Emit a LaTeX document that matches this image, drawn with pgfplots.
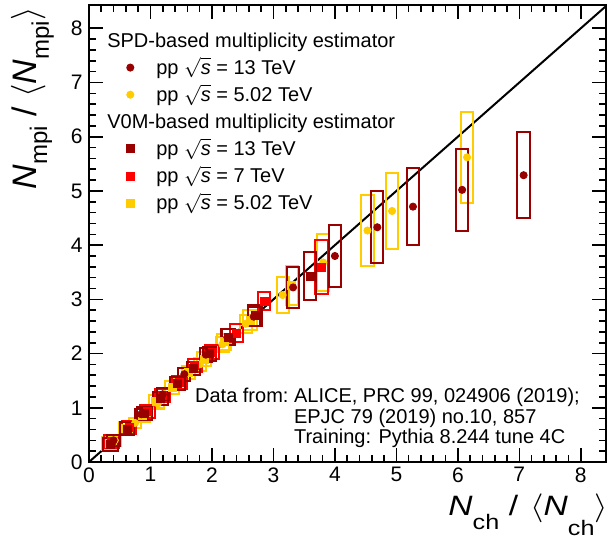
\documentclass[border=0pt]{standalone}
\usepackage{fontspec}
\setmainfont{Liberation Sans}
\usepackage{pgfplots}
\usepackage{pgfplotstable}
\usepackage{graphicx}
\pgfplotsset{compat=1.18}

\definecolor{mdark}{RGB}{153,0,0}
\definecolor{mred}{RGB}{255,0,0}
\definecolor{myel}{RGB}{255,204,0}

% columns: x, y, half width and half height of the systematic box
\pgfplotstableread{
x y ex ey
0.40 0.40 0.10 0.10
0.85 0.88 0.10 0.10
1.20 1.25 0.10 0.11
1.55 1.62 0.10 0.12
1.90 1.98 0.10 0.13
2.25 2.30 0.10 0.15
2.68 2.68 0.10 0.18
3.32 3.22 0.10 0.38
4.00 3.80 0.10 0.57
4.69 4.33 0.10 0.66
5.27 4.71 0.10 0.71
6.07 5.02 0.10 0.75
7.07 5.29 0.10 0.79
}\spdthirteen

\pgfplotstableread{
x y ex ey
0.42 0.40 0.10 0.10
0.75 0.72 0.10 0.10
1.12 1.08 0.10 0.10
1.48 1.45 0.10 0.11
1.80 1.80 0.10 0.12
2.17 2.17 0.10 0.14
2.55 2.55 0.10 0.17
3.15 3.08 0.10 0.34
3.81 3.68 0.10 0.52
4.53 4.27 0.10 0.65
4.93 4.63 0.10 0.70
6.15 5.62 0.10 0.84
}\spdfive

\pgfplotstableread{
x y ex ey
0.35 0.33 0.12 0.12
0.62 0.61 0.12 0.12
0.90 0.90 0.12 0.12
1.16 1.17 0.12 0.12
1.44 1.45 0.12 0.12
1.70 1.73 0.11 0.12
1.96 2.00 0.11 0.13
2.27 2.30 0.11 0.15
2.70 2.70 0.11 0.19
3.60 3.43 0.10 0.45
}\vthirteen

\pgfplotstableread{
x y ex ey
0.37 0.38 0.12 0.12
0.65 0.64 0.12 0.12
0.95 0.93 0.12 0.12
1.20 1.22 0.12 0.12
1.47 1.47 0.12 0.12
1.72 1.78 0.11 0.12
2.00 2.03 0.11 0.13
2.40 2.38 0.11 0.17
2.85 2.97 0.10 0.16
3.78 3.59 0.10 0.50
}\vseven

\pgfplotstableread{
x y ex ey
0.33 0.35 0.12 0.12
0.60 0.62 0.12 0.12
0.87 0.86 0.12 0.12
1.10 1.12 0.12 0.12
1.35 1.37 0.12 0.12
1.62 1.65 0.11 0.12
1.87 1.90 0.11 0.13
2.20 2.22 0.11 0.15
2.62 2.62 0.11 0.18
3.30 3.25 0.10 0.36
}\vfive

\pgfplotsset{
  sysbox/.style={
    only marks, scatter, mark=square, mark size=1pt,
    mark options={draw=#1, fill=none, line width=1pt},
    visualization depends on={\thisrow{ex} \as \bdx},
    visualization depends on={\thisrow{ey} \as \bdy},
    scatter/@pre marker code/.code={\begin{scope}[xscale=30.737*\bdx, yscale=27.105*\bdy]},
    scatter/@post marker code/.code={\end{scope}},
    forget plot,
  },
  legmark/.style={only marks,
    legend image code/.code={\path[draw=none, fill=none] (0pt,0pt) -- (20.5pt,0pt);
      \draw plot coordinates {(11.5pt,0pt)};}},
  leghead/.style={
    legend image code/.code={\path[draw=none, fill=none] (0pt,0pt) -- (20.5pt,0pt);
      \node[overlay, anchor=base west, inner sep=0pt, text=black,
        font=\fontsize{10}{12}\selectfont] at (0pt,-3.35pt) {#1};}},
}
\newcommand{\sub}[2]{\raisebox{-#1}{\fontsize{10.5}{11}\selectfont #2}}
\newcommand{\suby}[2]{\raisebox{-#1}{\fontsize{12}{12}\selectfont #2}}

\begin{document}
\begin{tikzpicture}
\begin{axis}[
  scale only axis,
  width=258.5pt, height=228.5pt,
  xmin=0, xmax=8.41, ymin=0, ymax=8.43,
  xtick={0,1,...,8}, ytick={0,1,...,8},
  minor tick num=4,
  major tick length=7pt, minor tick length=3.5pt,
  every tick/.style={black, line width=0.8pt},
  axis line style={line width=1pt},
  /pgf/number format/assume math mode=true,
  ticklabel style={font=\fontsize{10.5}{12}\selectfont, inner sep=0pt},
  xticklabel style={yshift=-2.5pt},
  yticklabel style={xshift=-3pt},
  every axis x label/.style={at={(rel axis cs:1,0)}, anchor=base west,
    xshift=-79pt, yshift=-26.5pt, inner sep=0pt},
  every axis y label/.style={at={(rel axis cs:0,1)}, xshift=-26pt, yshift=-1pt,
    rotate=90, anchor=base east, inner sep=0pt},
  xlabel={\scalebox{1.2}[1]{\fontsize{14}{14}\selectfont\textit{N}\sub{7pt}{ch}\hspace{4pt}/\hspace{5pt}$\langle$\textit{N}\sub{10pt}{ch}$\rangle$}},
  ylabel={\fontsize{17}{17}\selectfont\textit{N}\suby{5pt}{mpi} / $\langle$\textit{N}\suby{6pt}{mpi}$\rangle$},
  legend cell align=left,
  legend style={draw=none, fill=none, inner sep=0pt, outer sep=0pt,
    at={(0.03539,0.95196)}, anchor=north west,
    row sep=0pt, column sep=4pt,
    nodes={inner sep=0pt, text height=10.125pt, text depth=3.425pt,
      font=\fontsize{10}{12}\selectfont}},
]
% systematic boxes
\addplot[sysbox=myel] table {\vfive};
\addplot[sysbox=myel] table {\spdfive};
\addplot[sysbox=mred] table {\vseven};
\addplot[sysbox=mdark] table {\vthirteen};
\addplot[sysbox=mdark] table {\spdthirteen};

\addplot[black, line width=1pt, forget plot] coordinates {(0,0) (8.43,8.43)};

% points
\addplot[only marks, mark=square*, mark size=2pt, myel, forget plot] table {\vfive};
\addplot[only marks, mark=*, mark size=1.8pt, myel, forget plot] table {\spdfive};
\addplot[only marks, mark=square*, mark size=2pt, mred, forget plot] table {\vseven};
\addplot[only marks, mark=square*, mark size=2pt, mdark, forget plot] table {\vthirteen};
\addplot[only marks, mark=*, mark size=1.8pt, mdark, forget plot] table {\spdthirteen};

\addlegendimage{leghead={SPD-based multiplicity estimator}}
\addlegendentry{}
\addlegendimage{legmark, mark=*, mark size=1.8pt, mdark}
\addlegendentry{pp $\sqrt{\textit{s}}$ = 13 TeV}
\addlegendimage{legmark, mark=*, mark size=1.8pt, myel}
\addlegendentry{pp $\sqrt{\textit{s}}$ = 5.02 TeV}
\addlegendimage{leghead={V0M-based multiplicity estimator}}
\addlegendentry{}
\addlegendimage{legmark, mark=square*, mark size=2pt, mdark}
\addlegendentry{pp $\sqrt{\textit{s}}$ = 13 TeV}
\addlegendimage{legmark, mark=square*, mark size=2pt, mred}
\addlegendentry{pp $\sqrt{\textit{s}}$ = 7 TeV}
\addlegendimage{legmark, mark=square*, mark size=2pt, myel}
\addlegendentry{pp $\sqrt{\textit{s}}$ = 5.02 TeV}

\node[anchor=base west, inner sep=0pt, font=\fontsize{10}{10}\selectfont]
  at (axis cs:1.72,1.09) {\begin{tabular}[t]{@{}l@{}l@{}}Data from:~ & ALICE, PRC 99, 024906 (2019);\\
  & EPJC 79 (2019) no.10, 857\\ & Training: Pythia 8.244 tune 4C\end{tabular}};
\end{axis}
\pgfresetboundingbox
\path[use as bounding box] ([xshift=-44.5pt,yshift=-38.5pt]current axis.south west)
  rectangle ([xshift=1pt,yshift=2.5pt]current axis.north east);
\end{tikzpicture}
\end{document}
